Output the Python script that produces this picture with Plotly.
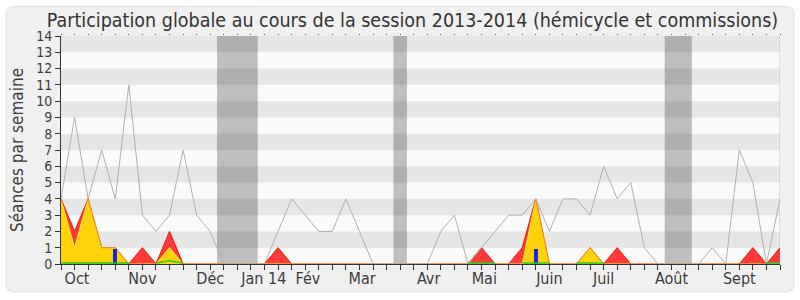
import plotly.graph_objects as go

# ---- data (one value per week of the 2013-2014 session) ----
weeks = list(range(54))
seances = [4, 9, 4, 7, 4, 11, 3, 2, 3, 7,
           3, 2, 0, 0, 0, 0, 2, 4, 3, 2,
           2, 4, 2, 0, 0, 0, 0, 0, 2, 3,
           0, 1, 2, 3, 3, 4, 2, 4, 4, 3,
           6, 4, 5, 1, 0, 0, 0, 0, 1, 0,
           7, 5, 0, 4]
presences_total = [4, 2, 4, 1, 1, 0, 1, 0, 2, 0,
                   0, 0, 0, 0, 0, 0, 1, 0, 0, 0,
                   0, 0, 0, 0, 0, 0, 0, 0, 0, 0,
                   0, 1, 0, 0, 1, 4, 0, 0, 0, 1,
                   0, 1, 0, 0, 0, 0, 0, 0, 0, 0,
                   0, 1, 0, 1]
presences_hemicycle = [4, 1, 4, 1, 1, 0, 0, 0, 1, 0,
                       0, 0, 0, 0, 0, 0, 0, 0, 0, 0,
                       0, 0, 0, 0, 0, 0, 0, 0, 0, 0,
                       0, 0, 0, 0, 0, 4, 0, 0, 0, 1,
                       0, 0, 0, 0, 0, 0, 0, 0, 0, 0,
                       0, 0, 0, 0]
questions = [0, 0, 0, 0, 0.9, 0, 0, 0, 0, 0,
             0, 0, 0, 0, 0, 0, 0, 0, 0, 0,
             0, 0, 0, 0, 0, 0, 0, 0, 0, 0,
             0, 0, 0, 0, 0, 0.9, 0, 0, 0, 0,
             0, 0, 0, 0, 0, 0, 0, 0, 0, 0,
             0, 0, 0, 0]
interventions = [0.06, 0.06, 0.06, 0.06, 0.06, 0.06, None, 0.06, 0.2, 0.06,
                 None, None, None, None, None, None, None, None, None, None,
                 None, None, None, None, None, None, None, None, None, None,
                 0.06, 0.06, 0.06, None, 0.06, 0.06, 0.06, None, 0.06, 0.06,
                 0.06, None, None, None, None, None, None, None, None, None,
                 None, None, 0.06, 0.06]
month_labels = ["Oct", "Nov", "Déc", "Jan 14", "Fév", "Mar", "Avr",
                "Mai", "Juin", "Juil", "Août", "Sept"]
month_weeks = [1.18, 6.0, 11.0, 14.95, 18.2, 22.2, 27.1, 31.2, 36.0, 40.0, 45.0, 50.0]
vacances = [(11.5, 14.5), (24.5, 25.5), (44.5, 46.5)]
y_ticks = list(range(0, 15))

FONT = "DejaVu Sans Condensed, Noto Sans, DejaVu Sans, sans-serif"
TXT = "#3c3c3c"

fig = go.Figure()

# red area (total presence)
fig.add_trace(go.Scatter(x=weeks, y=presences_total, mode="lines",
                         line=dict(color="#ff1a1a", width=1),
                         fill="tozeroy", fillcolor="#ff3a3a",
                         hoverinfo="skip", showlegend=False))
# yellow area (hemicycle)
fig.add_trace(go.Scatter(x=weeks, y=presences_hemicycle, mode="lines",
                         line=dict(color="#ffee40", width=1),
                         fill="tozeroy", fillcolor="#ffd20a",
                         hoverinfo="skip", showlegend=False))
# red outline again, half transparent (orange where edges coincide)
fig.add_trace(go.Scatter(x=weeks, y=presences_total, mode="lines",
                         line=dict(color="rgba(255,40,0,0.55)", width=1),
                         hoverinfo="skip", showlegend=False))
# grey line (number of sessions)
fig.add_trace(go.Scatter(x=weeks, y=seances, mode="lines",
                         line=dict(color="#b0b0b0", width=1),
                         hoverinfo="skip", showlegend=False))
# blue bars and green line on an overlay subplot so they sit on top
fig.add_trace(go.Bar(x=weeks, y=questions, width=0.3,
                     marker=dict(color="#1f1fe6", line=dict(width=0)),
                     xaxis="x2", yaxis="y2", hoverinfo="skip", showlegend=False))
fig.add_trace(go.Scatter(x=weeks, y=interventions, mode="lines",
                         line=dict(color="#22cc22", width=1.5),
                         xaxis="x2", yaxis="y2", connectgaps=False,
                         hoverinfo="skip", showlegend=False))

shapes = []
# rounded outer frame (paper coordinates)
L, R, T, B = 61.0, 780.0, 36.0, 266.0
W, H = R - L, B - T
def px(p):
    return (p - L) / W
def py(q):
    return (B - q) / H
x0, x1, y0, y1 = px(6), px(794), py(294), py(6)
rx, ry = 8 / W, 8 / H
path = (f"M {x0+rx},{y1} L {x1-rx},{y1} Q {x1},{y1} {x1},{y1-ry} "
        f"L {x1},{y0+ry} Q {x1},{y0} {x1-rx},{y0} L {x0+rx},{y0} "
        f"Q {x0},{y0} {x0},{y0+ry} L {x0},{y1-ry} Q {x0},{y1} {x0+rx},{y1} Z")
shapes.append(dict(type="path", xref="paper", yref="paper", path=path,
                   fillcolor="#f0f0f0", line=dict(color="#e2e2e2", width=1),
                   layer="below"))
# plot background and bands
shapes.append(dict(type="rect", xref="x", yref="y", x0=0, x1=53, y0=0, y1=14,
                   fillcolor="#fafafa", line=dict(width=0), layer="below"))
for k in range(1, 14, 2):
    shapes.append(dict(type="rect", xref="x", yref="y", x0=0, x1=53, y0=k, y1=k + 1,
                       fillcolor="#e6e6e6", line=dict(width=0), layer="below"))
for a, b in vacances:
    shapes.append(dict(type="rect", xref="x", yref="y", x0=a, x1=b, y0=0, y1=14,
                       fillcolor="rgba(0,0,0,0.24)", line=dict(width=0), layer="below"))
# right border
shapes.append(dict(type="line", xref="x", yref="y", x0=53, x1=53, y0=0, y1=14,
                   line=dict(color="#c4c4c4", width=1), layer="below"))

fig.update_layout(
    width=800, height=300,
    margin=dict(l=61, r=20, t=36, b=34),
    paper_bgcolor="white", plot_bgcolor="rgba(0,0,0,0)",
    font=dict(family=FONT, color=TXT),
    title=dict(text="Participation globale au cours de la session 2013-2014 (hémicycle et commissions)",
               x=412.5 / 800, xanchor="center", xref="container",
               y=1 - 20 / 300, yanchor="middle", yref="container",
               font=dict(family=FONT, size=19.5, color="#333333")),
    shapes=shapes,
    bargap=0,
    xaxis=dict(range=[0, 53], tickmode="array", tickvals=month_weeks, ticktext=month_labels,
               ticks="", showgrid=False, zeroline=False,
               showline=True, linecolor="#333333", linewidth=1,
               tickfont=dict(size=16, color=TXT, family=FONT),
               minor=dict(tick0=0, dtick=1, ticks="outside", ticklen=5,
                          tickcolor="#333333", tickwidth=1, showgrid=False),
               fixedrange=True),
    xaxis2=dict(range=[0, 53], overlaying="x", side="top", showgrid=False, zeroline=False,
                showline=False, showticklabels=False, tickmode="linear", tick0=0, dtick=1,
                ticks="outside", ticklen=1, tickcolor="#555555"),
    yaxis=dict(range=[0, 14], tickmode="array", tickvals=y_ticks,
               ticks="outside", ticklen=5, tickcolor="#333333",
               showgrid=False, zeroline=False,
               showline=True, linecolor="#333333", linewidth=1,
               tickfont=dict(size=14, color=TXT, family=FONT),
               title=dict(text="Séances par semaine", standoff=8,
                          font=dict(size=17, color=TXT, family=FONT))),
    yaxis2=dict(range=[0, 14], overlaying="y", showgrid=False, zeroline=False,
                showline=False, showticklabels=False, ticks=""),
)

fig.write_html("out.html")
